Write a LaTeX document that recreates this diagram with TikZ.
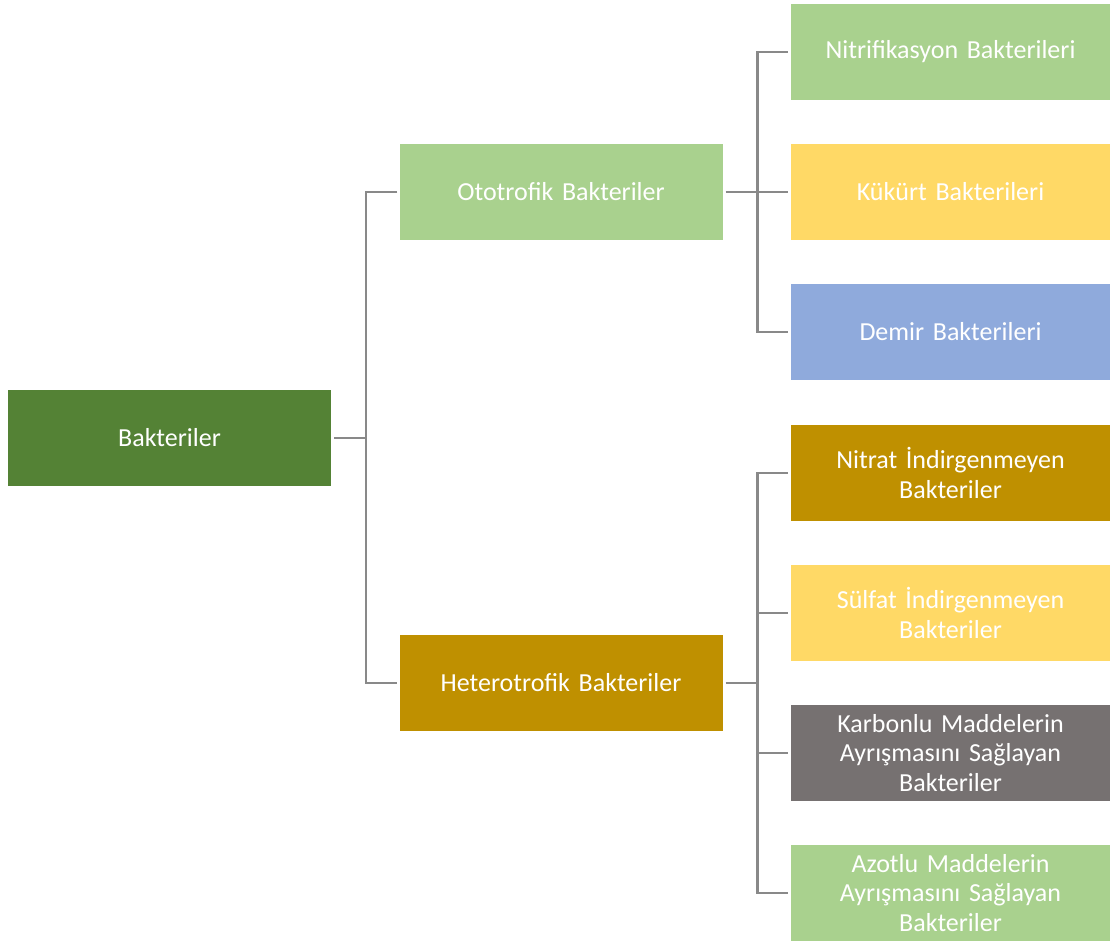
\documentclass[tikz,border=0pt]{standalone}
\usepackage{fontspec}
\setmainfont[WordSpace=0.6]{Carlito}
\definecolor{cdark}{HTML}{548235}
\definecolor{clgreen}{HTML}{A9D18E}
\definecolor{cyellow}{HTML}{FFD966}
\definecolor{cblue}{HTML}{8FAADC}
\definecolor{cgold}{HTML}{BF9000}
\definecolor{cgray}{HTML}{767171}
\definecolor{cline}{HTML}{898989}
\begin{document}
\begin{tikzpicture}[x=1pt,y=-1pt,
  box/.style={rectangle, draw=none, text=white, minimum height=96pt, inner sep=0pt, align=center,
    font=\fontsize{26}{29.5}\selectfont},
  wbox/.style={box, minimum width=323pt, text width=310pt},
  rbox/.style={box, minimum width=319pt, text width=310pt},
  conn/.style={draw=cline, line width=2.5pt}]
\useasboundingbox (0,0) rectangle (1110,943);
\node[wbox, fill=cdark] (root) at (169.5,438) {Bakteriler};
\node[wbox, fill=clgreen] (oto) at (561,192) {Ototrofik Bakteriler};
\node[wbox, fill=cgold] (het) at (561,683) {Heterotrofik Bakteriler};
\node[rbox, fill=clgreen] (n1) at (950.5,52) {Nitrifikasyon Bakterileri};
\node[rbox, fill=cyellow] (n2) at (950.5,192) {Kükürt Bakterileri};
\node[rbox, fill=cblue] (n3) at (950.5,332) {Demir Bakterileri};
\node[rbox, fill=cgold] (m1) at (950.5,473) {Nitrat İndirgenmeyen\\Bakteriler};
\node[rbox, fill=cyellow] (m2) at (950.5,613) {Sülfat İndirgenmeyen\\Bakteriler};
\node[rbox, fill=cgray] (m3) at (950.5,753) {Karbonlu Maddelerin\\Ayrışmasını Sağlayan\\Bakteriler};
\node[rbox, fill=clgreen] (m4) at (950.5,893) {Azotlu Maddelerin\\Ayrışmasını Sağlayan\\Bakteriler};
% root connectors
\draw[conn] ([xshift=3pt]root.east) -- ++(32,0) coordinate (rj);
\draw[conn] ([xshift=-2pt]oto.west) -| (rj) |- ([xshift=-2pt]het.west);
% ototrofik
\draw[conn] ([xshift=3pt]oto.east) -- ++(32,0) coordinate (oj);
\draw[conn] ([xshift=-3pt]n1.west) -| (oj) |- ([xshift=-3pt]n3.west);
\draw[conn] (oj) -- ([xshift=-3pt]n2.west);
% heterotrofik
\draw[conn] ([xshift=3pt]het.east) -- ++(32,0) coordinate (hj);
\draw[conn] ([xshift=-3pt]m1.west) -| (hj) |- ([xshift=-3pt]m4.west);
\draw[conn] ([xshift=-3pt]m2.west) -| (hj);
\draw[conn] ([xshift=-3pt]m3.west) -| (hj);
\end{tikzpicture}
\end{document}
